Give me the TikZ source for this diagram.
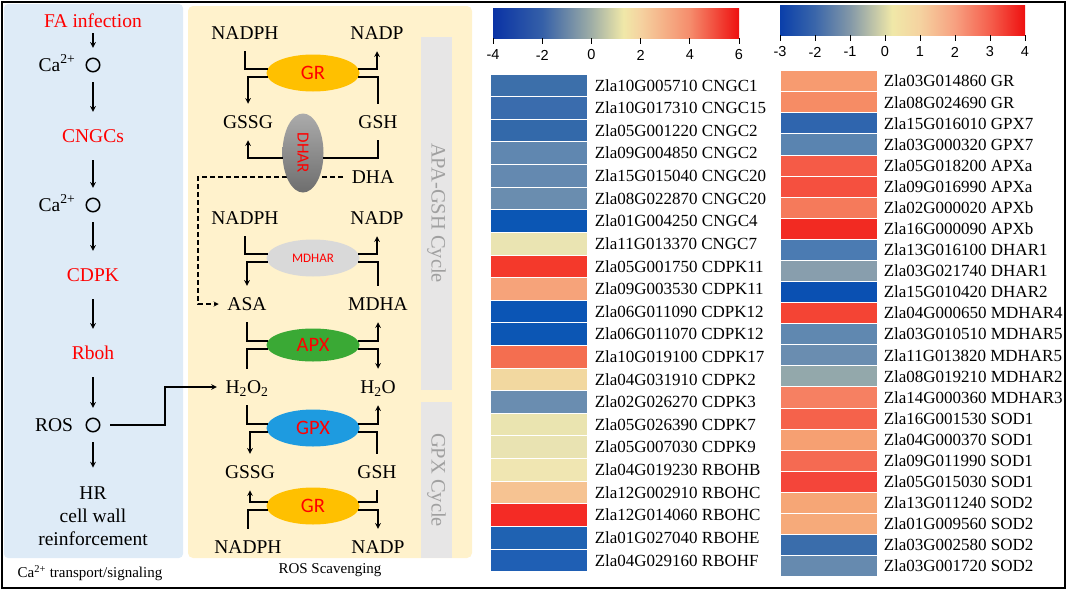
\documentclass[tikz,border=0pt]{standalone}
\usepackage{fontspec}
\setmainfont{Liberation Serif}
\newfontfamily\enzfont{Carlito}
\newfontfamily\barfont{Liberation Sans}
\usetikzlibrary{arrows,shapes.geometric}

\definecolor{sigblue}{HTML}{DEEBF7}
\definecolor{scavyellow}{HTML}{FFF2CC}
\definecolor{cyclegray}{HTML}{E7E6E6}
\definecolor{cyclefont}{HTML}{A0A0A0}
\definecolor{sigred}{HTML}{FF0000}
\definecolor{enzred}{HTML}{FF0000}
\definecolor{grorange}{HTML}{FFC000}
\definecolor{apxgreen}{HTML}{3AA935}
\definecolor{gpxblue}{HTML}{1E9BE0}
\definecolor{mdhargray}{HTML}{D9D9D9}
\definecolor{dhartop}{HTML}{ABABAB}
\definecolor{dharbot}{HTML}{6E6E6E}

% colour scales of the two heatmaps
\definecolor{cbA}{HTML}{0A33A5}
\definecolor{cbB}{HTML}{3560A8}
\definecolor{cbC}{HTML}{9FAEA6}
\definecolor{cbD}{HTML}{F0E8A8}
\definecolor{cbE}{HTML}{F5D2A0}
\definecolor{cbF}{HTML}{F58C6C}
\definecolor{cbG}{HTML}{EE1010}
\definecolor{cbH}{HTML}{0A3FAA}
\definecolor{cbI}{HTML}{3A66AA}
\definecolor{cbJ}{HTML}{8398A8}
\definecolor{cbK}{HTML}{F7A080}
\definecolor{cbL}{HTML}{F55E4C}
\pgfdeclarehorizontalshading{cbleft}{100bp}{color(0bp)=(cbA); color(25bp)=(cbA);
  color(35bp)=(cbB); color(45bp)=(cbC); color(51.5bp)=(cbD); color(55bp)=(cbE);
  color(65bp)=(cbF); color(75bp)=(cbG); color(100bp)=(cbG)}
\pgfdeclarehorizontalshading{cbright}{100bp}{color(0bp)=(cbH); color(25bp)=(cbH);
  color(32.1bp)=(cbI); color(39.3bp)=(cbJ); color(47.9bp)=(cbD); color(53.6bp)=(cbE);
  color(60.7bp)=(cbK); color(67.9bp)=(cbL); color(75bp)=(cbG); color(100bp)=(cbG)}

\tikzset{
  lbl/.style={font=\fontsize{19.5}{23}\selectfont, text height=13pt, text depth=0pt},
  sig/.style={lbl, text=sigred, inner xsep=2pt, inner ysep=17pt},
  pore/.style={circle, draw, line width=1.5pt, minimum size=13.5pt, inner sep=0pt, outer sep=10.5pt},
  metab/.style={lbl, inner xsep=8pt, inner ysep=11pt},
  enzyme/.style={ellipse, inner sep=0pt, outer sep=0pt, minimum width=93pt, minimum height=37pt,
    text=enzred, font=\enzfont\fontsize{20.5}{22}\selectfont},
  cyclelabel/.style={rotate=-90, text=cyclefont, font=\fontsize{20.5}{24}\selectfont},
  paneltitle/.style={font=\fontsize{15}{18}\selectfont},
  hcell/.style={rectangle, draw=white, line width=0.9pt, inner sep=0pt, minimum width=97pt},
  glabel/.style={anchor=west, inner sep=0pt, font=\fontsize{17}{20}\selectfont, text height=11.5pt, text depth=0pt},
  cbar/.style={rectangle, shade, inner sep=0pt, minimum height=30pt},
  ticklabel/.style={font=\barfont\fontsize{14.5}{16}\selectfont},
}

\begin{document}
\begin{tikzpicture}[x=1pt, y=-1pt, >=stealth, line width=1.5pt]

\useasboundingbox (0,0) rectangle (1072,592);

% panels
\fill [sigblue, rounded corners=4pt] (4,4) rectangle (183,558);
\fill [scavyellow, rounded corners=5pt] (188,6) rectangle (472,558);
\fill [cyclegray] (421,37) rectangle (452,390);
\fill [cyclegray] (421,402) rectangle (452,558);
\node [cyclelabel] (apa-cycle) at (436.5,213) {APA-GSH Cycle};
\node [cyclelabel] (gpx-cycle) at (436.5,480) {GPX Cycle};
\node [paneltitle] (sig-title) at (90,573) {Ca\textsuperscript{2+} transport/signaling};
\node [paneltitle] (ros-title) at (330,570) {ROS Scavenging};

% signalling chain
\node [sig, inner ysep=5pt] (fa) at (93,21) {FA infection};
\node [pore] (ca-1) at (93,65) {};
\node [sig] (cngc) at (93,136) {CNGCs};
\node [pore] (ca-2) at (93,205) {};
\node [sig] (cdpk) at (93,275) {CDPK};
\node [sig] (rboh) at (93,353) {Rboh};
\node [pore] (ros) at (93,425) {};
\node [lbl, inner sep=0pt] (ca-1-name) at (57,65) {Ca\textsuperscript{2+}};
\node [lbl, inner sep=0pt] (ca-2-name) at (57,205) {Ca\textsuperscript{2+}};
\node [lbl, inner sep=0pt] (ros-name) at (54,425) {ROS};
\node [align=center, anchor=north, inner sep=0pt, font=\fontsize{19.5}{23}\selectfont]
  (hr) at (93,485.5) {HR\\cell wall\\reinforcement};

\foreach \a/\b in {fa/ca-1, ca-1/cngc, cngc/ca-2, ca-2/cdpk, cdpk/rboh, rboh/ros}
  \draw [->] (\a) -- (\b);
\draw [->, shorten >=18pt] (ros) -- (hr);

% ROS scavenging
\node [metab] (nadph-1) at (245,33) {NADPH};
\node [metab] (nadp-1) at (377,33) {NADP};
\node [metab] (gssg-1) at (248,122) {GSSG};
\node [metab] (gsh-1) at (378,122) {GSH};
\node [metab] (dha) at (373,177) {DHA};
\node [metab] (nadph-2) at (245,218) {NADPH};
\node [metab] (nadp-2) at (377,218) {NADP};
\node [metab] (asa) at (247,304) {ASA};
\node [metab] (mdha) at (378,304) {MDHA};
\node [metab] (h2o2) at (247,387) {H\textsubscript{2}O\textsubscript{2}};
\node [metab] (h2o) at (378,387) {H\textsubscript{2}O};
\node [metab] (gssg-2) at (250,472) {GSSG};
\node [metab] (gsh-2) at (377,472) {GSH};
\node [metab] (nadph-3) at (248,547) {NADPH};
\node [metab] (nadp-3) at (378,547) {NADP};

\coordinate (dha-bend) at (198,240);
\draw [->, line width=1.3pt, dash pattern=on 5pt off 3pt] (dha) -| (dha-bend) |- (asa);
\coordinate (ros-bend) at (165,400);
\draw [->] (ros) -| (ros-bend) |- (h2o2);

\node [enzyme, fill=grorange] (gr-1) at (313,73) {GR};
\node [enzyme, top color=dhartop, bottom color=dharbot, minimum width=41pt, minimum height=79pt,
  font=\enzfont\fontsize{17}{20}\selectfont] (dhar) at (303,153) {\rotatebox{-90}{DHAR}};
\node [enzyme, fill=mdhargray, font=\enzfont\fontsize{13}{15}\selectfont] (mdhar) at (313,258) {MDHAR};
\node [enzyme, fill=apxgreen, minimum height=33pt] (apx) at (313,345) {APX};
\node [enzyme, fill=gpxblue] (gpx) at (313,428) {GPX};
\node [enzyme, fill=grorange] (gr-2) at (313,506) {GR};

\foreach \a/\b in {nadph-1/gr-1.175, gsh-1/gr-1.355, gsh-1/dhar.346, nadph-2/mdhar.175,
  mdha/mdhar.355, asa/apx.175, h2o2/apx.185, h2o2/gpx.175, gsh-2/gpx.355,
  nadph-3/gr-2.185, gsh-2/gr-2.5}
  \draw (\a) |- (\b);
\foreach \a/\b in {gr-1.185/gssg-1, gr-1.5/nadp-1, dhar.194/gssg-1, mdhar.185/asa,
  mdhar.5/nadp-2, apx.5/mdha, apx.355/h2o, gpx.185/gssg-2, gpx.5/h2o,
  gr-2.175/gssg-2, gr-2.355/nadp-3}
  \draw [->] (\a) -| (\b);

% colour bars
\node [cbar, shading=cbleft, minimum width=246pt] (cbar-a) at (616,23) {};
\foreach \v [count=\k] in {-4,-2,...,6} {
  \draw [line width=0.9pt] ({493+(\v+4)*24.6},38) -- ({493+(\v+4)*24.6},44);
  \node [ticklabel] (tick-a-\k) at ({493+(\v+4)*24.6},55) {\v};
}
\node [cbar, shading=cbright, minimum width=245pt] (cbar-b) at (902.5,20) {};
\foreach \v [count=\k] in {-3,...,4} {
  \draw [line width=0.9pt] ({780+(\v+3)*35},35) -- ({780+(\v+3)*35},41);
  \node [ticklabel] (tick-b-\k) at ({780+(\v+3)*35},52) {\v};
}

% heatmaps
\foreach \hexc/\gene/\fmly [count=\i] in {
  3C6FAA/Zla10G005710/CNGC1, 3A6CAD/Zla10G017310/CNGC15, 3369AA/Zla05G001220/CNGC2,
  6087B0/Zla09G004850/CNGC2, 6489B0/Zla15G015040/CNGC20, 6A8DAF/Zla08G022870/CNGC20,
  0B56B4/Zla01G004250/CNGC4, EAE4B2/Zla11G013370/CNGC7, F4392B/Zla05G001750/CDPK11,
  F6A37A/Zla09G003530/CDPK11, 0B55B5/Zla06G011090/CDPK12, 0C56B4/Zla06G011070/CDPK12,
  F46E50/Zla10G019100/CDPK17, F2D8A0/Zla04G031910/CDPK2, 6A8DB0/Zla02G026270/CDPK3,
  EAE4B0/Zla05G026390/CDPK7, E9E3B2/Zla05G007030/CDPK9, F0E6B2/Zla04G019230/RBOHB,
  F6C392/Zla12G002910/RBOHC, F42B25/Zla12G014060/RBOHC, 1F62B2/Zla01G027040/RBOHE,
  1F5FB4/Zla04G029160/RBOHF} {
  \definecolor{cellcolor}{HTML}{\hexc}
  \node [hcell, fill=cellcolor, minimum height=22.62pt] (left-\i) at (538.5,{62.69+\i*22.62}) {};
  \node [glabel] (left-name-\i) at (594,{62.69+\i*22.62}) {\gene\ \fmly};
}
\foreach \hexc/\gene/\fmly [count=\i] in {
  F79B70/Zla03G014860/GR, F68C65/Zla08G024690/GR, 2F65AE/Zla15G016010/GPX7,
  5A84B0/Zla03G000320/GPX7, F55B47/Zla05G018200/APXa, F5503F/Zla09G016990/APXa,
  F57A5B/Zla02G000020/APXb, F22A22/Zla16G000090/APXb, 4B7BB2/Zla13G016100/DHAR1,
  889EAD/Zla03G021740/DHAR1, 0A50B2/Zla15G010420/DHAR2, F44434/Zla04G000650/MDHAR4,
  6088B0/Zla03G010510/MDHAR5, 6A8DB0/Zla11G013820/MDHAR5, 93A8AB/Zla08G019210/MDHAR2,
  F68062/Zla14G000360/MDHAR3, F5624B/Zla16G001530/SOD1, F6A072/Zla04G000370/SOD1,
  F56A52/Zla09G011990/SOD1, F4453A/Zla05G015030/SOD1, F6A676/Zla13G011240/SOD2,
  F6AA7A/Zla01G009560/SOD2, 3A6DAB/Zla03G002580/SOD2, 668AAF/Zla03G001720/SOD2} {
  \definecolor{cellcolor}{HTML}{\hexc}
  \node [hcell, fill=cellcolor, minimum height=21.08pt] (right-\i) at (828.5,{60.16+\i*21.08}) {};
  \node [glabel] (right-name-\i) at (883,{60.16+\i*21.08}) {\gene\ \fmly};
}

\draw [line width=1.6pt] (2,2) rectangle (1065,588);

\end{tikzpicture}
\end{document}
